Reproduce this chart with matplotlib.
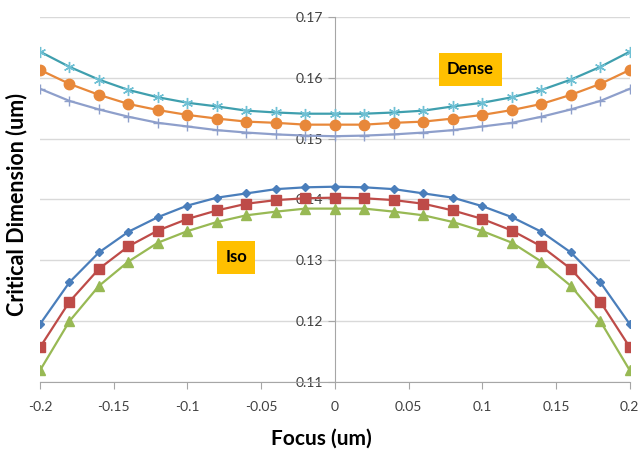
import numpy as np
import matplotlib.pyplot as plt

plt.rcParams['font.family'] = ['Lato', 'DejaVu Sans']

# focus positions (um)
focus = [-0.2, -0.18, -0.16, -0.14, -0.12, -0.1, -0.08, -0.06, -0.04, -0.02, 0,
         0.02, 0.04, 0.06, 0.08, 0.1, 0.12, 0.14, 0.16, 0.18, 0.2]

# iso lines
iso_top = [0.1195, 0.1264, 0.1313, 0.1347, 0.1371, 0.1390, 0.1403, 0.1410, 0.1417, 0.1420, 0.1421,
           0.1420, 0.1417, 0.1410, 0.1403, 0.1389, 0.1371, 0.1347, 0.1313, 0.1264, 0.1195]
iso_mid = [0.1157, 0.1232, 0.1286, 0.1323, 0.1349, 0.1368, 0.1382, 0.1393, 0.1399, 0.1402, 0.1403,
           0.1402, 0.1399, 0.1393, 0.1382, 0.1368, 0.1349, 0.1323, 0.1286, 0.1232, 0.1157]
iso_low = [0.1119, 0.1200, 0.1258, 0.1298, 0.1329, 0.1348, 0.1363, 0.1374, 0.1380, 0.1385, 0.1385,
           0.1385, 0.1380, 0.1374, 0.1363, 0.1348, 0.1329, 0.1298, 0.1258, 0.1200, 0.1119]

# dense lines
dense_top = [0.1643, 0.1618, 0.1597, 0.1580, 0.1568, 0.1559, 0.1553, 0.1546, 0.1543, 0.1541, 0.1541,
             0.1541, 0.1543, 0.1546, 0.1553, 0.1559, 0.1568, 0.1580, 0.1597, 0.1618, 0.1643]
dense_mid = [0.1613, 0.1590, 0.1572, 0.1557, 0.1547, 0.1539, 0.1533, 0.1528, 0.1526, 0.1523, 0.1523,
             0.1523, 0.1526, 0.1528, 0.1533, 0.1539, 0.1547, 0.1557, 0.1572, 0.1590, 0.1613]
dense_low = [0.1582, 0.1562, 0.1548, 0.1536, 0.1526, 0.1520, 0.1514, 0.1510, 0.1507, 0.1505, 0.1504,
             0.1505, 0.1507, 0.1510, 0.1514, 0.1520, 0.1526, 0.1536, 0.1548, 0.1562, 0.1582]

xticks = [-0.2, -0.15, -0.1, -0.05, 0, 0.05, 0.1, 0.15, 0.2]
xlabels = ['-0.2', '-0.15', '-0.1', '-0.05', '0', '0.05', '0.1', '0.15', '0.2']
yticks = [0.11, 0.12, 0.13, 0.14, 0.15, 0.16, 0.17]
ylabels = ['0.11', '0.12', '0.13', '0.14', '0.15', '0.16', '0.17']

fig = plt.figure(figsize=(6.42, 4.59), dpi=100)
ax = fig.add_axes([0.0623, 0.1678, 0.9187, 0.7952])

lw = 1.6
ax.plot(focus, dense_top, color='#3F9FAE', lw=lw, marker=(6, 2, 0), ms=8,
        mec='#6FC0D4', mew=1.0, zorder=3)
ax.plot(focus, dense_mid, color='#E8883A', lw=lw, marker='o', ms=7.5, zorder=3)
ax.plot(focus, dense_low, color='#8E9FCB', lw=lw, marker='+', ms=7, mew=1.0, zorder=3)
ax.plot(focus, iso_top, color='#4A7EBB', lw=lw, marker='D', ms=4.5, zorder=3)
ax.plot(focus, iso_mid, color='#BE4B48', lw=lw, marker='s', ms=6.5, zorder=3)
ax.plot(focus, iso_low, color='#98B954', lw=lw, marker='^', ms=6.5, zorder=3)

ax.set_xlim(-0.2, 0.2)
ax.set_ylim(0.11, 0.17)
ax.set_xticks(xticks)
ax.set_xticklabels(xlabels)
ax.set_yticks(yticks)
ax.set_yticklabels(ylabels)

ax.spines['left'].set_position(('data', 0))
ax.spines['top'].set_visible(False)
ax.spines['right'].set_visible(False)
ax.spines['left'].set_color('#A6A6A6')
ax.spines['bottom'].set_color('#A6A6A6')
ax.tick_params(axis='both', colors='#A6A6A6', labelcolor='#404040', labelsize=10,
               length=5, direction='out')
ax.tick_params(axis='x', pad=9)
ax.grid(axis='y', color='#D9D9D9', lw=1.0)
ax.set_axisbelow(True)

ax.text(0.092, 0.1614, 'Dense', fontsize=12, fontweight='bold', ha='center', va='center',
        bbox=dict(boxstyle='square,pad=0.5', fc='#FFC000', ec='none'), zorder=4)
ax.text(-0.067, 0.1305, 'Iso', fontsize=12, fontweight='bold', ha='center', va='center',
        bbox=dict(boxstyle='square,pad=0.5', fc='#FFC000', ec='none'), zorder=4)

fig.text(0.5, 0.045, 'Focus (um)', fontsize=15, fontweight='bold', ha='center', va='center')
fig.text(0.025, 0.555, 'Critical Dimension (um)', fontsize=15.5, fontweight='bold',
         ha='center', va='center', rotation=90)

plt.savefig('out.png', dpi=100)
